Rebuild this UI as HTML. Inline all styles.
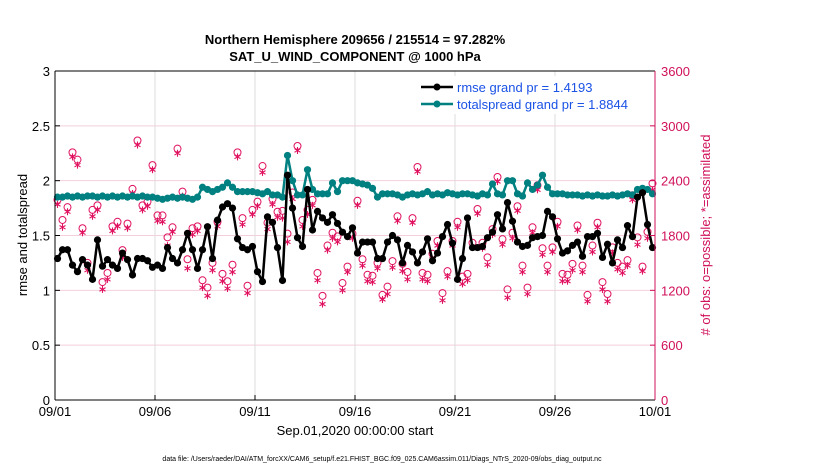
<!DOCTYPE html>
<html><head><meta charset="utf-8"><style>
body{margin:0;background:#fff;}
svg text{font-family:"Liberation Sans",sans-serif;}
</style></head><body>
<svg id="chart" width="830" height="470" xmlns="http://www.w3.org/2000/svg">
<rect width="830" height="470" fill="#fff"/>
<g id="grid"></g><g id="obs"></g><g id="lines"></g><g id="axes"></g>
<text x="355" y="44" text-anchor="middle" font-size="13" font-weight="bold">Northern Hemisphere 209656 / 215514 = 97.282%</text>
<text x="355" y="61" text-anchor="middle" font-size="13" font-weight="bold">SAT_U_WIND_COMPONENT @ 1000 hPa</text>
<text transform="translate(27,235) rotate(-90)" text-anchor="middle" font-size="13">rmse and totalspread</text>
<text transform="translate(710,235) rotate(-90)" text-anchor="middle" font-size="13" fill="#d0105a"># of obs: o=possible; *=assimilated</text>
<text x="355" y="435" text-anchor="middle" font-size="13">Sep.01,2020 00:00:00 start</text>
<text x="382" y="461" text-anchor="middle" font-size="7">data file: /Users/raeder/DAI/ATM_forcXX/CAM6_setup/f.e21.FHIST_BGC.f09_025.CAM6assim.011/Diags_NTrS_2020-09/obs_diag_output.nc</text>
<g>
<rect x="418" y="76" width="234" height="38" fill="#fff" stroke="none"/>
<line x1="421" y1="87" x2="453" y2="87" stroke="#000" stroke-width="2.5"/>
<circle cx="437" cy="87" r="3.5" fill="#000"/>
<text x="457" y="92" font-size="13" fill="#1a52e6">rmse grand pr = 1.4193</text>
<line x1="421" y1="104" x2="453" y2="104" stroke="#008080" stroke-width="2.5"/>
<circle cx="437" cy="104" r="3.5" fill="#008080"/>
<text x="457" y="109" font-size="13" fill="#1a52e6">totalspread grand pr = 1.8844</text>
</g>
</svg>
<script>
const xTickLabels = ["09/01","09/06","09/11","09/16","09/21","09/26","10/01"];
const leftTicks = [0,0.5,1,1.5,2,2.5,3];
const leftTickLabels = ["0","0.5","1","1.5","2","2.5","3"];
const rightTicks = [0,600,1200,1800,2400,3000,3600];
const rmse = [1.29,1.37,1.37,1.23,1.17,1.28,1.23,1.10,1.46,1.22,1.28,1.23,1.20,1.34,1.28,1.14,1.29,1.29,1.27,1.21,
1.23,1.20,1.39,1.29,1.25,1.37,1.52,1.37,1.20,1.37,1.58,1.29,1.64,1.76,1.79,1.75,1.47,1.39,1.37,1.40,
1.17,1.08,1.67,1.62,1.39,1.09,2.05,1.75,1.48,1.40,1.92,1.55,1.72,1.66,1.62,1.69,1.61,1.53,1.49,1.57,
1.34,1.44,1.44,1.44,1.29,1.29,1.44,1.50,1.46,1.25,1.41,1.35,1.25,1.35,1.47,1.27,1.34,1.49,1.60,1.43,
1.10,1.29,1.66,1.39,1.39,1.40,1.48,1.53,1.69,1.56,1.80,1.63,1.44,1.40,1.41,1.48,1.49,1.50,1.72,1.67,
1.47,1.34,1.36,1.41,1.44,1.31,1.49,1.49,1.52,1.30,1.42,1.25,1.46,1.39,1.59,1.49,1.85,1.89,1.60,1.39];
const spread = [1.85,1.85,1.86,1.85,1.86,1.85,1.86,1.86,1.85,1.86,1.85,1.86,1.85,1.86,1.85,1.86,1.85,1.86,1.85,1.85,
1.84,1.83,1.84,1.85,1.84,1.85,1.84,1.83,1.85,1.94,1.92,1.90,1.92,1.94,1.98,1.94,1.90,1.90,1.90,1.90,
1.89,1.88,1.90,1.87,1.87,1.85,2.23,2.00,1.87,1.87,2.10,1.92,1.88,1.88,1.88,1.98,1.90,2.00,2.00,2.00,
1.98,1.97,1.96,1.93,1.85,1.88,1.88,1.88,1.87,1.85,1.87,1.88,1.87,1.88,1.90,1.87,1.88,1.87,1.89,1.88,
1.87,1.88,1.88,1.87,1.86,1.88,1.87,1.97,1.88,1.87,2.00,2.00,1.88,1.86,1.98,1.92,1.96,2.05,1.94,1.88,
1.88,1.88,1.87,1.87,1.87,1.86,1.87,1.86,1.87,1.86,1.86,1.87,1.86,1.87,1.88,1.87,1.92,1.93,1.92,1.88];
const possible = [2190,1970,2110,2710,2630,1880,1500,2080,2130,1290,1390,1900,1950,1640,1930,2310,2840,2130,2170,2570,
2020,2020,1780,1890,2750,2280,1540,1880,1900,1310,1230,1500,1950,1380,1300,1480,2710,1990,1250,2080,
2170,2560,1940,2200,2060,2070,1820,2270,2780,1970,2080,2190,1390,1140,1690,1830,1790,1280,1460,1820,
2180,1540,1370,1360,1500,1150,1240,1520,2010,1490,1400,1990,2550,1390,1370,1600,1740,1170,1410,1740,
1950,1350,1380,1720,2090,1720,1560,1870,2440,1760,1210,1830,2120,1470,1230,1890,2350,1660,1470,1670,
1950,1380,1370,1490,1910,1470,1150,1690,1940,1290,1160,1670,1500,1460,1530,2240,1780,1460,1840,2370];
const assimilated = [2140,1890,2060,2660,2570,1830,1420,2010,2080,1210,1320,1850,1900,1560,1880,2260,2790,2080,2120,2520,
1960,1950,1690,1840,2700,2230,1440,1810,1850,1230,1140,1420,1900,1300,1220,1400,2660,1920,1170,2030,
2120,2490,1870,2140,2000,1990,1730,2200,2730,1900,2030,2130,1310,1050,1640,1770,1730,1200,1400,1770,
2130,1470,1300,1290,1440,1100,1160,1450,1960,1410,1320,1940,2500,1320,1300,1540,1690,1090,1350,1690,
1890,1270,1310,1670,2040,1660,1480,1810,2390,1700,1120,1770,2070,1400,1160,1830,2300,1590,1400,1620,
1900,1300,1300,1420,1860,1400,1080,1620,1890,1210,1080,1610,1430,1390,1470,2190,1700,1410,1770,2300];

const NS='http://www.w3.org/2000/svg';
const X0=55,X1=655,Y0=400,Y1=71;
function xScale(day){return X0+(X1-X0)*day/30;}
function yL(v){return Y0-(Y0-Y1)*v/3;}
function yR(v){return Y0-(Y0-Y1)*v/3600;}
function tOf(i){return 0.125+0.25*i;}
function mk(tag,attrs,parent){const e=document.createElementNS(NS,tag);for(const k in attrs)e.setAttribute(k,attrs[k]);parent.appendChild(e);return e;}
const grid=document.getElementById('grid'),axes=document.getElementById('axes'),obs=document.getElementById('obs'),lines=document.getElementById('lines');
mk('rect',{x:X0,y:Y1,width:X1-X0,height:Y0-Y1,fill:'#fff'},grid);
leftTicks.forEach((v,i)=>{
  const g=mk('line',{x1:X0,x2:X1,y1:yL(v),y2:yL(v),stroke:'#f3cfdc','stroke-width':1},grid);
  
  
  const t=mk('text',{x:X0-5,y:yL(v)+5,'text-anchor':'end','font-size':13},axes);
  t.textContent=leftTickLabels[i];
  
  
  mk('line',{x1:X0,x2:X0+5,y1:yL(v),y2:yL(v),stroke:'#000'},axes);
});
rightTicks.forEach(v=>{
  const t=mk('text',{x:X1+6,y:yR(v)+5,'font-size':13,fill:'#d0105a'},axes);
  t.textContent=String(v);
  
  
  mk('line',{x1:X1-5,x2:X1,y1:yR(v),y2:yR(v),stroke:'#d0105a'},axes);
});
xTickLabels.forEach((l,i)=>{
  const x=xScale(i*5);
  if(i>0&&i<6){const g=mk('line',{x1:x,x2:x,y1:Y1,y2:Y0,stroke:'#dcdcdc','stroke-width':1},grid);
  
  }
  const t=mk('text',{x:x,y:Y0+16,'text-anchor':'middle','font-size':13},axes);
  t.textContent=l;
  
  
  mk('line',{x1:x,x2:x,y1:Y0,y2:Y0-5,stroke:'#000'},axes);
});
mk('line',{x1:X0,x2:X0,y1:Y1,y2:Y0,stroke:'#000'},axes);
mk('line',{x1:X0,x2:X1,y1:Y0,y2:Y0,stroke:'#000'},axes);
mk('line',{x1:X0,x2:X1,y1:Y1,y2:Y1,stroke:'#000'},axes);
mk('line',{x1:X1,x2:X1,y1:Y1,y2:Y0,stroke:'#d0105a'},axes);
const red='#e0115f';
possible.forEach((v,i)=>{
  const c=mk('circle',{cx:xScale(tOf(i)),cy:yR(v),r:3.5,fill:'none',stroke:red,'stroke-width':1},obs);
  
  
});
assimilated.forEach((v,i)=>{
  const x=xScale(tOf(i)),y=yR(v);
  const g=mk('g',{stroke:red,'stroke-width':1.1},obs);
  
  
  mk('line',{x1:x,x2:x,y1:y-3.5,y2:y+3.5},g);
  mk('line',{x1:x-3,x2:x+3,y1:y-1.8,y2:y+1.8},g);
  mk('line',{x1:x-3,x2:x+3,y1:y+1.8,y2:y-1.8},g);
});
function series(vals,color,name){
  const pts=vals.map((v,i)=>xScale(tOf(i)).toFixed(1)+','+yL(v).toFixed(1)).join(' ');
  const p=mk('polyline',{points:pts,fill:'none',stroke:color,'stroke-width':2.5,'stroke-linejoin':'round'},lines);
  
  
  vals.forEach((v,i)=>{
    const c=mk('circle',{cx:xScale(tOf(i)),cy:yL(v),r:3.6,fill:color},lines);
    
    
  });
}
series(spread,'#008080','totalspread');
series(rmse,'#000','rmse');
</script>
</body></html>
